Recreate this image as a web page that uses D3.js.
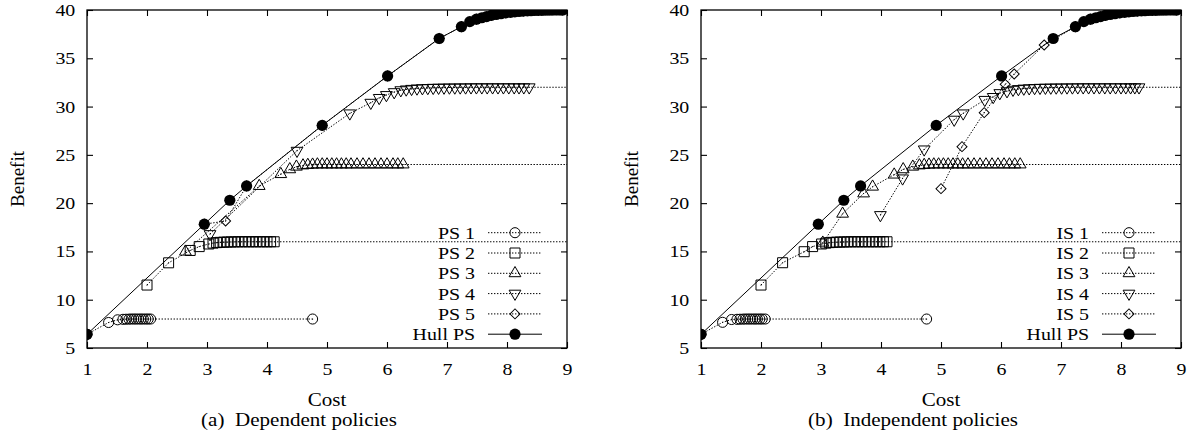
<!DOCTYPE html>
<html>
<head>
<meta charset="utf-8">
<script src="https://cdn.jsdelivr.net/npm/d3@7"></script>
<style>
body { margin: 0; background: #fff; }
text { font-family: "Liberation Serif", "Times New Roman", serif; fill: #000; }
</style>
</head>
<body>
<div id="chart"></div>
<script>
// ---- data (cost, benefit) ----
var xTicks = [1, 2, 3, 4, 5, 6, 7, 8, 9];
var yTicks = [5, 10, 15, 20, 25, 30, 35, 40];

var hullPS = [[1.0, 6.42], [2.955, 17.82], [3.38, 20.3], [3.66, 21.78], [4.92, 28.05], [6.01, 33.17],
  [6.87, 37.05], [7.24, 38.27], [7.38, 38.8], [7.49, 39.05], [7.58, 39.2], [7.66, 39.32], [7.74, 39.44],
  [7.82, 39.54], [7.9, 39.62], [7.98, 39.7], [8.06, 39.76], [8.13, 39.81], [8.2, 39.85], [8.27, 39.88],
  [8.34, 39.91], [8.4, 39.93], [8.46, 39.95], [8.52, 39.96], [8.58, 39.97], [8.64, 39.98], [8.7, 39.99],
  [8.75, 40], [8.8, 40], [8.85, 40], [8.9, 40], [8.93, 40]];

var ps1 = [[1.0, 6.42], [1.36, 7.64], [1.51, 7.92], [1.6, 7.97], [1.65, 7.98], [1.7, 7.99], [1.74, 8], [1.78, 8],
  [1.82, 8], [1.86, 8], [1.9, 8], [1.94, 8], [1.98, 8], [2.02, 8], [2.06, 8], [4.76, 8]];
var ps2 = [[2.0, 11.52], [2.36, 13.82], [2.72, 15.1], [2.87, 15.5], [3.03, 15.77], [3.1, 15.86], [3.16, 15.91],
  [3.22, 15.94], [3.28, 15.96], [3.34, 15.97], [3.4, 15.98], [3.46, 15.99], [3.52, 16], [3.58, 16], [3.64, 16],
  [3.7, 16], [3.76, 16], [3.82, 16], [3.88, 16], [3.94, 16], [4.0, 16], [4.06, 16], [4.12, 16], [10, 16]];
var ps3 = [[2.64, 14.97], [3.87, 21.77], [4.23, 23.0], [4.38, 23.5], [4.49, 23.77], [4.6, 23.9], [4.68, 23.95],
  [4.76, 23.98], [4.84, 24], [4.92, 24], [5.0, 24], [5.08, 24], [5.16, 24], [5.24, 24], [5.32, 24], [5.4, 24],
  [5.5, 24], [5.6, 24], [5.7, 24], [5.8, 24], [5.9, 24], [6.0, 24], [6.1, 24], [6.18, 24], [6.27, 24], [10, 24]];
var ps4 = [[3.05, 16.8], [4.5, 25.43], [5.38, 29.3], [5.73, 30.4], [5.87, 30.9], [5.99, 31.2], [6.12, 31.5],
  [6.23, 31.7], [6.32, 31.78], [6.41, 31.84], [6.5, 31.88], [6.59, 31.91], [6.68, 31.93], [6.77, 31.95],
  [6.86, 31.96], [6.95, 31.97], [7.04, 31.98], [7.13, 31.98], [7.22, 31.99], [7.31, 31.99], [7.4, 32],
  [7.49, 32], [7.58, 32], [7.67, 32], [7.76, 32], [7.85, 32], [7.94, 32], [8.03, 32], [8.12, 32], [8.2, 32],
  [8.28, 32], [8.37, 32], [10, 32]];
var ps5 = [[2.955, 17.82], [3.31, 18.15], [3.66, 21.78], [4.92, 28.05], [6.01, 33.17], [6.87, 37.05],
  [7.24, 38.27], [7.49, 39.05], [7.74, 39.44], [7.98, 39.7], [8.27, 39.88], [8.52, 39.96], [8.75, 40], [8.93, 40]];

var is1 = [[1.0, 6.42], [1.36, 7.66], [1.51, 7.95], [1.6, 7.97], [1.65, 7.98], [1.7, 7.99], [1.74, 8], [1.78, 8],
  [1.82, 8], [1.86, 8], [1.9, 8], [1.94, 8], [1.98, 8], [2.02, 8], [2.07, 8], [4.76, 8]];
var is2 = [[2.0, 11.52], [2.36, 13.83], [2.72, 14.97], [2.86, 15.5], [3.01, 15.77], [3.08, 15.86], [3.14, 15.91],
  [3.2, 15.94], [3.26, 15.96], [3.32, 15.97], [3.38, 15.98], [3.44, 15.99], [3.5, 16], [3.56, 16], [3.62, 16],
  [3.68, 16], [3.74, 16], [3.8, 16], [3.86, 16], [3.92, 16], [3.98, 16], [4.04, 16], [4.1, 16], [10, 16]];
var is3 = [[3.03, 15.9], [3.36, 18.9], [3.71, 21.0], [3.86, 21.7], [4.22, 22.95], [4.37, 23.5], [4.53, 23.77],
  [4.64, 23.9], [4.72, 23.95], [4.8, 23.98], [4.88, 24], [4.96, 24], [5.04, 24], [5.12, 24], [5.2, 24], [5.28, 24],
  [5.36, 24], [5.45, 24], [5.55, 24], [5.65, 24], [5.75, 24], [5.85, 24], [5.95, 24], [6.05, 24], [6.14, 24],
  [6.23, 24], [6.32, 24], [10, 24]];
var is4 = [[3.99, 18.77], [4.36, 22.57], [4.72, 25.57], [5.22, 28.65], [5.37, 29.3], [5.73, 30.7], [5.87, 31.0],
  [5.98, 31.4], [6.1, 31.6], [6.2, 31.75], [6.29, 31.82], [6.38, 31.87], [6.47, 31.9], [6.56, 31.93],
  [6.65, 31.95], [6.74, 31.96], [6.83, 31.97], [6.92, 31.98], [7.01, 31.98], [7.1, 31.99], [7.19, 31.99],
  [7.28, 32], [7.37, 32], [7.46, 32], [7.55, 32], [7.64, 32], [7.73, 32], [7.82, 32], [7.91, 32], [8.0, 32],
  [8.08, 32], [8.16, 32], [8.23, 32], [8.3, 32], [10, 32]];
var is5 = [[5.0, 21.5], [5.35, 25.85], [5.72, 29.37], [6.07, 32.3], [6.22, 33.37], [6.72, 36.38], [7.24, 38.27],
  [7.49, 39.05], [7.74, 39.44], [7.98, 39.7], [8.27, 39.88], [8.52, 39.96], [8.75, 40], [8.93, 40]];

var psNames = ["PS 1", "PS 2", "PS 3", "PS 4", "PS 5", "Hull PS"];
var isNames = ["IS 1", "IS 2", "IS 3", "IS 4", "IS 5", "Hull PS"];
var captions = ["(a)\u00A0\u00A0Dependent policies", "(b)\u00A0\u00A0Independent policies"];

// ---- layout ----
var svgWidth = 1193;
var svgHeight = 431;
var marginTop = 10;
var width = 480;
var height = 338;
var sx = 1.17; // glyphs in the figure are a bit wider than plain Times

var svg = d3.select("#chart")
  .append("svg")
  .attr("width", svgWidth)
  .attr("height", svgHeight);

var x = d3.scaleLinear().domain([1, 9]).range([0, width]);
var y = d3.scaleLinear().domain([5, 40]).range([height, 0]);

// marker styles for series 1..5
var markers = [
  { type: d3.symbolCircle, size: 80, rot: 0 },
  { type: d3.symbolSquare, size: 100, rot: 0 },
  { type: d3.symbolTriangle, size: 60, rot: 0 },
  { type: d3.symbolTriangle, size: 60, rot: 180 },
  { type: d3.symbolSquare, size: 50, rot: 45 }
];

var line = d3.line()
  .x(d => x(d[0]))
  .y(d => y(d[1]));

function drawPanel(idx, left, capX, series, names, caption) {
  var g = svg.append("g")
    .attr("transform", `translate(${left}, ${marginTop})`);

  g.append("clipPath").attr("id", "clip" + idx)
    .append("rect").attr("width", width).attr("height", height);

  // axes, ticks point inward
  var bottom = g.append("g")
    .attr("transform", `translate(0, ${height})`)
    .call(d3.axisBottom(x).tickValues(xTicks).tickSizeInner(-6).tickSizeOuter(0).tickPadding(15));
  var leftAx = g.append("g")
    .call(d3.axisLeft(y).tickValues(yTicks).tickSizeInner(-6).tickSizeOuter(0).tickPadding(10));
  g.append("g")
    .call(d3.axisTop(x).tickValues(xTicks).tickSizeInner(-6).tickSizeOuter(0).tickFormat(""));
  g.append("g")
    .attr("transform", `translate(${width}, 0)`)
    .call(d3.axisRight(y).tickValues(yTicks).tickSizeInner(-6).tickSizeOuter(0).tickFormat(""));
  g.selectAll(".domain").remove();
  g.selectAll(".tick line").attr("stroke-width", 1.1);
  [bottom, leftAx].forEach(function(a) {
    a.attr("font-size", 17);
    a.selectAll("text").attr("transform", `scale(${sx},1)`);
  });

  // frame
  g.append("rect")
    .attr("width", width).attr("height", height)
    .attr("fill", "none").attr("stroke", "#000").attr("stroke-width", 1.3);

  // data
  var plot = g.append("g").attr("clip-path", `url(#clip${idx})`);
  series.forEach(function(s, i) {
    plot.append("path")
      .datum(s)
      .attr("d", line)
      .attr("fill", "none")
      .attr("stroke", "#000")
      .attr("stroke-width", 1)
      .attr("stroke-dasharray", "1.4,1.6");
    var m = markers[i];
    var pts = plot.append("g").selectAll("g")
      .data(s)
      .enter()
      .append("g")
      .attr("transform", d => `translate(${x(d[0])}, ${y(d[1])})`);
    pts.append("path")
      .attr("d", d3.symbol().type(m.type).size(m.size))
      .attr("transform", `rotate(${m.rot})`)
      .attr("fill", "none")
      .attr("stroke", "#000")
      .attr("stroke-width", 1);
    pts.append("circle").attr("r", 0.6).attr("fill", "#000");
  });

  // hull on top
  plot.append("path")
    .datum(hullPS)
    .attr("d", line)
    .attr("fill", "none")
    .attr("stroke", "#000")
    .attr("stroke-width", 1);
  plot.append("g").selectAll("circle")
    .data(hullPS)
    .enter()
    .append("circle")
    .attr("cx", d => x(d[0]))
    .attr("cy", d => y(d[1]))
    .attr("r", 5.6)
    .attr("fill", "#000");

  // legend
  names.forEach(function(name, i) {
    var ry = 222.7 + i * 20.3;
    g.append("text")
      .attr("transform", `translate(388, ${ry}) scale(${sx},1)`)
      .attr("dy", "0.35em")
      .attr("text-anchor", "end")
      .attr("font-size", 17)
      .text(name);
    var lg = g.append("line")
      .attr("x1", 401).attr("x2", 455)
      .attr("y1", ry).attr("y2", ry)
      .attr("stroke", "#000")
      .attr("stroke-width", 1);
    if (i < 5) {
      lg.attr("stroke-dasharray", "1.4,1.6");
      var m = markers[i];
      g.append("path")
        .attr("d", d3.symbol().type(m.type).size(m.size))
        .attr("transform", `translate(428, ${ry}) rotate(${m.rot})`)
        .attr("fill", "none")
        .attr("stroke", "#000")
        .attr("stroke-width", 1);
    } else {
      g.append("circle")
        .attr("cx", 428).attr("cy", ry).attr("r", 5.6).attr("fill", "#000");
    }
  });

  // axis titles
  g.append("text")
    .attr("transform", `translate(-63, ${height / 2}) rotate(-90)`)
    .attr("text-anchor", "middle")
    .attr("font-size", 19)
    .text("Benefit");

  g.append("text")
    .attr("transform", `translate(${width / 2}, ${406 - marginTop}) scale(${sx},1)`)
    .attr("text-anchor", "middle")
    .attr("font-size", 18)
    .text("Cost");

  svg.append("text")
    .attr("transform", `translate(${capX}, 426) scale(${sx},1)`)
    .attr("text-anchor", "middle")
    .attr("font-size", 18)
    .text(caption);
}

drawPanel(0, 87, 299, [ps1, ps2, ps3, ps4, ps5], psNames, captions[0]);
drawPanel(1, 701, 913, [is1, is2, is3, is4, is5], isNames, captions[1]);
</script>
</body>
</html>
